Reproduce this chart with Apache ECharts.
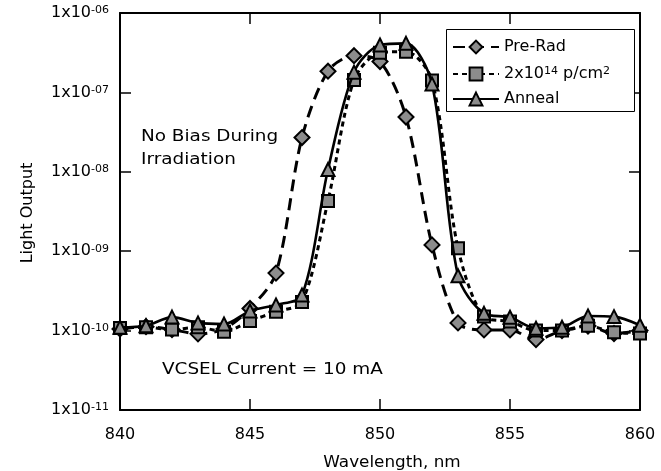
<!DOCTYPE html>
<html>
<head>
<meta charset="utf-8">
<script src="https://cdn.jsdelivr.net/npm/echarts@6/dist/echarts.min.js"></script>
<style>
html,body{margin:0;padding:0;background:#fff;}
#chart{width:661px;height:471px;}
</style>
</head>
<body>
<div id="chart"></div>
<script>
// ---- data ----
var wavelengths = [840,841,842,843,844,845,846,847,848,849,850,851,852,853,854,855,856,857,858,859,860];
var preRad = [1.05e-10,1.12e-10,1.03e-10,0.91e-10,1.05e-10,1.9e-10,5.3e-10,2.7e-8,1.85e-7,2.9e-7,2.45e-7,4.9e-8,1.2e-9,1.25e-10,1.02e-10,1.02e-10,0.77e-10,1.0e-10,1.14e-10,0.92e-10,1.0e-10];
var irradiated = [1.08e-10,1.1e-10,1.03e-10,1.1e-10,0.97e-10,1.32e-10,1.73e-10,2.3e-10,4.3e-9,1.43e-7,3.16e-7,3.26e-7,1.41e-7,1.09e-9,1.5e-10,1.3e-10,1.0e-10,1.0e-10,1.15e-10,0.95e-10,0.92e-10];
var anneal = [1.1e-10,1.15e-10,1.48e-10,1.25e-10,1.21e-10,1.77e-10,2.1e-10,2.8e-10,1.07e-8,1.8e-7,3.95e-7,4.15e-7,1.28e-7,4.9e-10,1.65e-10,1.47e-10,1.07e-10,1.1e-10,1.53e-10,1.5e-10,1.17e-10];
var xTicks = [840,845,850,855,860];
var yTickExponents = ['-11','-10','-09','-08','-07','-06'];
var seriesNames = ['Pre-Rad','2x10^14 p/cm^2','Anneal'];

function pairs(xs, ys){ return xs.map(function(x,i){ return [x, ys[i]]; }); }

var FONT = 'DejaVu Sans';
var chart = echarts.init(document.getElementById('chart'), null, {renderer:'canvas'});

var markerStyle = {color:'#8c8c8c', borderColor:'#000', borderWidth:2};

var legendRich = {
  a:{fontFamily:FONT, fontSize:16, lineHeight:16, verticalAlign:'bottom', color:'#000'},
  b:{fontFamily:FONT, fontSize:11, lineHeight:11, verticalAlign:'top', padding:[0,0,8,0], color:'#000'}
};
function makeLegend(i, top){
  return {
    left:452, top:top, orient:'horizontal', data:[seriesNames[i]],
    padding:0, itemGap:0, itemWidth:46, itemHeight:16,
    textStyle:{fontFamily:FONT, fontSize:16, color:'#000', rich:legendRich},
    formatter:function(name){
      if (name === seriesNames[1]) return '{a|2x10}{b|14}{a| p/cm}{b|2}';
      return name;
    }
  };
}

var option = {
  animation:false,
  backgroundColor:'#fff',
  grid:{left:120, right:21, top:13, bottom:61, containLabel:false},
  xAxis:[{
    type:'value', min:840, max:860, interval:5, position:'bottom',
    axisLine:{show:true, onZero:false, lineStyle:{color:'#000', width:2}},
    axisTick:{show:true, inside:true, length:11, lineStyle:{color:'#000', width:1.5}},
    axisLabel:{margin:17, color:'#000', fontFamily:FONT, fontSize:16,
      formatter:function(v){ return xTicks.indexOf(v) >= 0 ? String(v) : ''; }},
    splitLine:{show:false}
  },{
    type:'value', min:840, max:860, interval:5, position:'top',
    axisLine:{show:true, onZero:false, lineStyle:{color:'#000', width:2}},
    axisTick:{show:true, inside:true, length:11, lineStyle:{color:'#000', width:1.5}},
    axisLabel:{show:false}, splitLine:{show:false}
  }],
  yAxis:[{
    type:'log', logBase:10, min:1e-11, max:1e-6, position:'left',
    axisLine:{show:true, onZero:false, lineStyle:{color:'#000', width:2}},
    axisTick:{show:true, inside:true, length:11, lineStyle:{color:'#000', width:1.5}},
    minorTick:{show:false},
    axisLabel:{margin:11, color:'#000', fontFamily:FONT,
      formatter:function(v){
        var e = Math.round(Math.log(v)/Math.LN10);
        var idx = e + 11;
        return '{a|1x10}{b|' + yTickExponents[idx] + '}';
      },
      rich:{
        a:{fontFamily:FONT, fontSize:16, lineHeight:16, verticalAlign:'bottom', color:'#000'},
        b:{fontFamily:FONT, fontSize:11, lineHeight:11, verticalAlign:'top', padding:[0,0,13,0], color:'#000'}
      }
    },
    splitLine:{show:false}
  },{
    type:'log', logBase:10, min:1e-11, max:1e-6, position:'right',
    axisLine:{show:true, onZero:false, lineStyle:{color:'#000', width:2}},
    axisTick:{show:true, inside:true, length:11, lineStyle:{color:'#000', width:1.5}},
    axisLabel:{show:false}, splitLine:{show:false}
  }],
  legend:[makeLegend(0, 39), makeLegend(1, 66), makeLegend(2, 91)],
  series:[
    {name:seriesNames[0], type:'line', data:pairs(wavelengths, preRad), smooth:0.3,
     symbol:'diamond', symbolSize:15, clip:false, z:3,
     lineStyle:{color:'#000', width:3, type:[12,7]}, itemStyle:markerStyle},
    {name:seriesNames[1], type:'line', data:pairs(wavelengths, irradiated), smooth:0.3,
     symbol:'rect', symbolSize:12, clip:false, z:4,
     lineStyle:{color:'#000', width:3, type:[5,4]}, itemStyle:markerStyle},
    {name:seriesNames[2], type:'line', data:pairs(wavelengths, anneal), smooth:0.3,
     symbol:'triangle', symbolSize:13, clip:false, z:5,
     lineStyle:{color:'#000', width:2.6, type:'solid'}, itemStyle:markerStyle}
  ],
  graphic:[
    {type:'rect', shape:{x:446.5, y:29.5, width:188, height:82}, style:{fill:'#fff', stroke:'#000', lineWidth:1}, z:1},
    {type:'text', x:141, y:137, scaleX:1.15, style:{text:'No Bias During', fontFamily:FONT, fontSize:16, fill:'#000', verticalAlign:'middle'}},
    {type:'text', x:141, y:160, scaleX:1.15, style:{text:'Irradiation', fontFamily:FONT, fontSize:16, fill:'#000', verticalAlign:'middle'}},
    {type:'text', x:162, y:370, scaleX:1.15, style:{text:'VCSEL Current = 10 mA', fontFamily:FONT, fontSize:16, fill:'#000', verticalAlign:'middle'}},
    {type:'text', x:392, y:463, scaleX:1.05, style:{text:'Wavelength, nm', fontFamily:FONT, fontSize:16, fill:'#000', align:'center', verticalAlign:'middle'}},
    {type:'text', x:28, y:213, rotation:Math.PI/2, style:{text:'Light Output', fontFamily:FONT, fontSize:16, fill:'#000', align:'center', verticalAlign:'middle'}}
  ]
};
chart.setOption(option);
</script>
</body>
</html>
